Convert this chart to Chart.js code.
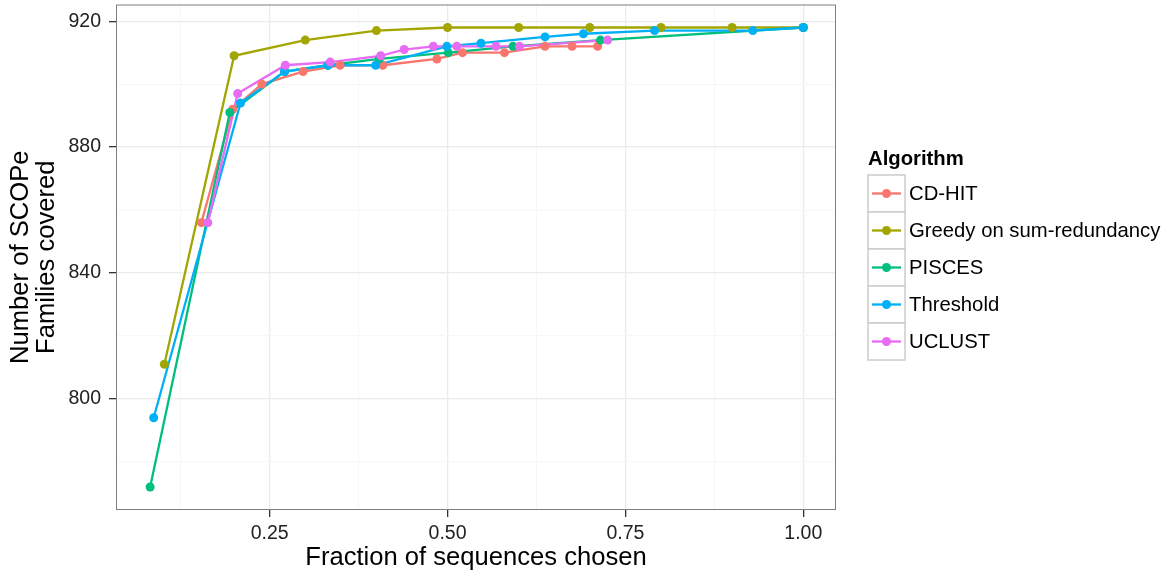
<!DOCTYPE html>
<html>
<head>
<meta charset="utf-8">
<script src="https://cdn.jsdelivr.net/npm/chart.js@4"></script>
<style>
  html, body { margin: 0; padding: 0; background: #fff; }
  #wrap { width: 1168px; height: 577px; position: relative; }
</style>
</head>
<body>
<div id="wrap"><canvas id="scopChart"></canvas></div>
<script>
const algorithms = ['CD-HIT', 'Greedy on sum-redundancy', 'PISCES', 'Threshold', 'UCLUST'];
const colors = ['#F8766D', '#A3A500', '#00BF7D', '#00B0F6', '#E76BF3'];

const cdhitX = [0.154, 0.198, 0.239, 0.297, 0.349, 0.409, 0.485, 0.521, 0.580, 0.637, 0.675, 0.711];
const cdhitY = [856, 892, 900, 904, 906, 906, 908, 910, 910, 912, 912, 912];

const greedyX = [0.102, 0.2, 0.3, 0.4, 0.5, 0.6, 0.7, 0.8, 0.9, 1.0];
const greedyY = [811, 909, 914, 917, 918, 918, 918, 918, 918, 918];

const piscesX = [0.082, 0.194, 0.271, 0.332, 0.404, 0.501, 0.592, 0.715, 1.0];
const piscesY = [772, 891, 904, 906, 908, 910, 912, 914, 918];

const thresholdX = [0.087, 0.209, 0.271, 0.332, 0.399, 0.499, 0.547, 0.637, 0.691, 0.791, 0.929, 1.0];
const thresholdY = [794, 894, 904, 906, 906, 912, 913, 915, 916, 917, 917, 918];

const uclustX = [0.163, 0.205, 0.272, 0.335, 0.406, 0.439, 0.480, 0.513, 0.568, 0.601, 0.725];
const uclustY = [856, 897, 906, 907, 909, 911, 912, 912, 912, 912, 914];

const xMajor = [0.25, 0.5, 0.75, 1.0];
const xMinor = [0.125, 0.375, 0.625, 0.875];
const yMajor = [800, 840, 880, 920];
const yMinor = [780, 820, 860, 900];

const xTitle = 'Fraction of sequences chosen';
const yTitle = ['Number of SCOPe', 'Families covered'];
const legendTitle = 'Algorithm';

const FONT = '"Liberation Sans", Arial, sans-serif';

const seriesX = [cdhitX, greedyX, piscesX, thresholdX, uclustX];
const seriesY = [cdhitY, greedyY, piscesY, thresholdY, uclustY];

function pts(i) {
  return seriesX[i].map((x, k) => ({ x: x, y: seriesY[i][k] }));
}

// lines first (behind), then points on top, like ggplot
let datasets = [];
algorithms.forEach((name, i) => {
  datasets.push({
    label: name, data: pts(i), borderColor: colors[i], borderWidth: 2.3,
    pointRadius: 0, fill: false, tension: 0, order: 20 - i
  });
});
algorithms.forEach((name, i) => {
  datasets.push({
    label: name + ' pts', data: pts(i), showLine: false, borderWidth: 0,
    pointRadius: 4.5, pointBackgroundColor: colors[i], pointBorderWidth: 0, order: 10 - i
  });
});

function setTicks(major, minor) {
  return function (scale) {
    scale.ticks = major.concat(minor).sort((a, b) => a - b).map(v => ({ value: v, major: major.includes(v) }));
  };
}

const decor = {
  id: 'decor',
  afterDatasetsDraw(chart) {
    const c = chart.ctx, a = chart.chartArea;
    c.save();
    // panel border
    c.strokeStyle = '#7F7F7F';
    c.lineWidth = 1;
    c.strokeRect(a.left + 0.5, a.top + 0.5, a.right - a.left - 1, a.bottom - a.top - 1);

    // axis titles
    c.fillStyle = '#000';
    c.font = '25.6px ' + FONT;
    c.textAlign = 'center';
    c.textBaseline = 'middle';
    c.fillText(xTitle, (a.left + a.right) / 2, 558);
    c.save();
    c.translate(21, (a.top + a.bottom) / 2);
    c.rotate(-Math.PI / 2);
    c.fillText(yTitle[0], 0, 0);
    c.fillText(yTitle[1], 0, 26);
    c.restore();

    // legend
    const lx = 868, top = 175, rowH = 37, boxW = 37;
    c.textAlign = 'left';
    c.font = 'bold 20.3px ' + FONT;
    c.fillText(legendTitle, lx, 159);
    c.font = '20.3px ' + FONT;
    algorithms.forEach((name, i) => {
      const y = top + i * rowH;
      c.fillStyle = '#FFFFFF';
      c.fillRect(lx, y, boxW, rowH);
      c.strokeStyle = '#CCCCCC';
      c.lineWidth = 1.5;
      c.strokeRect(lx, y, boxW, rowH);
      const cy = y + rowH / 2;
      c.strokeStyle = colors[i];
      c.lineWidth = 2.3;
      c.beginPath();
      c.moveTo(lx + 4, cy);
      c.lineTo(lx + boxW - 4, cy);
      c.stroke();
      c.fillStyle = colors[i];
      c.beginPath();
      c.arc(lx + boxW / 2, cy, 4.5, 0, Math.PI * 2);
      c.fill();
      c.fillStyle = '#000';
      c.fillText(name, lx + boxW + 4, cy + 1);
    });
    c.restore();
  }
};

const ctx = document.getElementById('scopChart').getContext('2d');
const chart = new Chart(ctx, {
  type: 'line',
  data: { datasets: datasets },
  options: {
    responsive: true,
    maintainAspectRatio: false,
    animation: false,
    layout: { padding: { top: 3, right: 332, left: 0, bottom: 0 } },
    plugins: { legend: { display: false }, tooltip: { enabled: false } },
    scales: {
      x: {
        type: 'linear',
        min: 0.034, max: 1.046,
        afterBuildTicks: setTicks(xMajor, xMinor),
        afterFit: s => { s.height = 67; s.paddingLeft = 0; s.paddingRight = 0; },
        border: { display: false },
        grid: {
          color: c => xMajor.includes(c.tick.value) ? '#EBEBEB' : '#F7F7F7',
          lineWidth: c => xMajor.includes(c.tick.value) ? 1.3 : 1,
          tickColor: c => xMajor.includes(c.tick.value) ? '#333' : 'rgba(0,0,0,0)',
          tickLength: 7, tickWidth: 1.3
        },
        ticks: {
          autoSkip: false, maxRotation: 0, padding: 5, color: '#222',
          font: { family: FONT, size: 19.5 },
          callback: v => xMajor.includes(v) ? v.toFixed(2) : ''
        }
      },
      y: {
        type: 'linear',
        min: 764.7, max: 925.3,
        afterBuildTicks: setTicks(yMajor, yMinor),
        afterFit: s => { s.width = 116; s.paddingTop = 0; s.paddingBottom = 0; },
        border: { display: false },
        grid: {
          color: c => yMajor.includes(c.tick.value) ? '#EBEBEB' : '#F7F7F7',
          lineWidth: c => yMajor.includes(c.tick.value) ? 1.3 : 1,
          tickColor: c => yMajor.includes(c.tick.value) ? '#333' : 'rgba(0,0,0,0)',
          tickLength: 7, tickWidth: 1.3
        },
        ticks: {
          autoSkip: false, padding: 8, color: '#222',
          font: { family: FONT, size: 19.5 },
          callback: v => yMajor.includes(v) ? String(v) : ''
        }
      }
    }
  },
  plugins: [decor]
});
</script>
</body>
</html>
